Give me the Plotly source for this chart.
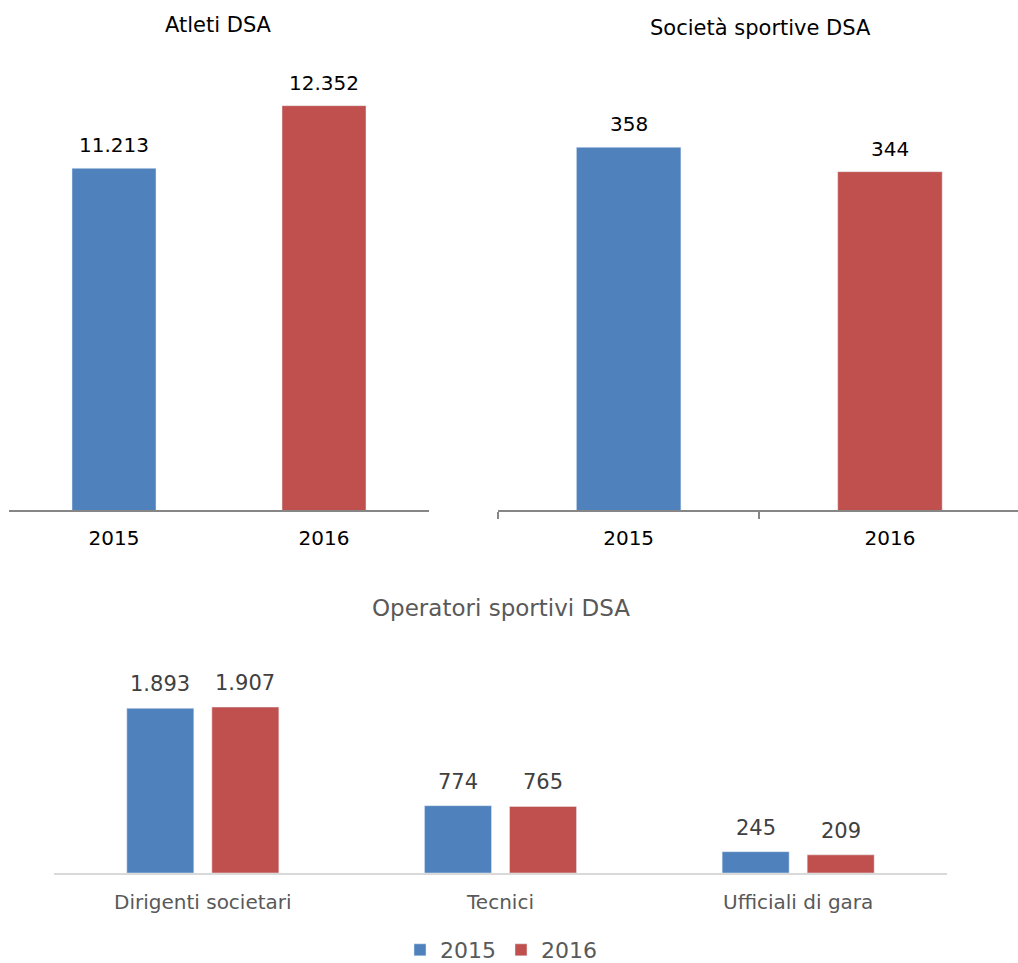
import plotly.graph_objects as go

# --- data ---
years = ["2015", "2016"]
atleti = [11213, 12352]
societa = [358, 344]
operatori_cat = ["Dirigenti societari", "Tecnici", "Ufficiali di gara"]
operatori_2015 = [1893, 774, 245]
operatori_2016 = [1907, 765, 209]

BLUE = "#4F81BD"
RED = "#C0504D"
FONT = "DejaVu Sans"
W, H = 1018, 963


def it_num(v):
    """Italian thousands separator."""
    return f"{v:,}".replace(",", ".")


def px_x(p):
    return p / W


def px_y(p):
    # pixel row from top -> paper fraction from bottom
    return (H - p) / H


fig = go.Figure()

# Atleti DSA
fig.add_trace(go.Bar(x=years, y=atleti, marker_color=[BLUE, RED], width=0.4,
                     xaxis="x", yaxis="y", showlegend=False, hoverinfo="skip"))
# Società sportive DSA
fig.add_trace(go.Bar(x=years, y=societa, marker_color=[BLUE, RED], width=0.4,
                     xaxis="x2", yaxis="y2", showlegend=False, hoverinfo="skip"))
# Operatori sportivi DSA
fig.add_trace(go.Bar(x=operatori_cat, y=operatori_2015, name="2015", marker_color=BLUE,
                     xaxis="x3", yaxis="y3", hoverinfo="skip"))
fig.add_trace(go.Bar(x=operatori_cat, y=operatori_2016, name="2016", marker_color=RED,
                     xaxis="x3", yaxis="y3", hoverinfo="skip"))

annotations = []
# value labels (category index positions)
for ys, xr, yr in [(atleti, "x", "y"), (societa, "x2", "y2")]:
    for i, yv in enumerate(ys):
        annotations.append(dict(x=i, y=yv, xref=xr, yref=yr, text=it_num(yv),
                                showarrow=False, xanchor="center", yanchor="bottom", yshift=9,
                                font=dict(family=FONT, size=20, color="#000000")))
for i, c in enumerate(operatori_cat):
    for yv, off in [(operatori_2015[i], -0.143), (operatori_2016[i], 0.143)]:
        annotations.append(dict(x=i + off, y=yv, xref="x3", yref="y3", text=it_num(yv),
                                showarrow=False, xanchor="center", yanchor="bottom", yshift=10,
                                font=dict(family=FONT, size=21, color="#404040")))

# chart titles
annotations += [
    dict(x=px_x(218), y=px_y(25), xref="paper", yref="paper", text="Atleti DSA",
         showarrow=False, xanchor="center", yanchor="middle",
         font=dict(family=FONT, size=21, color="#000000")),
    dict(x=px_x(760), y=px_y(28), xref="paper", yref="paper", text="Società sportive DSA",
         showarrow=False, xanchor="center", yanchor="middle",
         font=dict(family=FONT, size=21, color="#000000")),
    dict(x=px_x(501), y=px_y(608), xref="paper", yref="paper", text="Operatori sportivi DSA",
         showarrow=False, xanchor="center", yanchor="middle",
         font=dict(family=FONT, size=23, color="#595959")),
]

top_dom = [px_y(510), px_y(70)]
fig.update_layout(
    width=W, height=H,
    # fixed margins: the legend must not shrink the plotting area
    margin=dict(l=0, r=0, t=0, b=0, autoexpand=False),
    paper_bgcolor="white", plot_bgcolor="white",
    barmode="group", bargap=0.4286, bargroupgap=0.212,
    font=dict(family=FONT),
    xaxis=dict(domain=[px_x(9), px_x(429)], anchor="y", type="category", range=[-0.5, 1.5],
               showline=True, linecolor="#868686", linewidth=2, ticks="",
               ticklabelstandoff=9,
               tickfont=dict(size=20, color="#000000"), showgrid=False, fixedrange=True),
    yaxis=dict(domain=top_dom, anchor="x", range=[5000, 13000], visible=False,
               showgrid=False, fixedrange=True),
    xaxis2=dict(domain=[px_x(498), 1.0], anchor="y2", type="category", range=[-0.5, 1.49],
                showline=True, linecolor="#868686", linewidth=2,
                ticks="outside", tickson="boundaries", ticklen=7, tickwidth=2,
                tickcolor="#868686", ticklabelstandoff=9,
                tickfont=dict(size=20, color="#000000"), showgrid=False, fixedrange=True),
    yaxis2=dict(domain=top_dom, anchor="x2", range=[150, 402.3], visible=False,
                showgrid=False, fixedrange=True),
    xaxis3=dict(domain=[px_x(54), px_x(947)], anchor="y3", type="category", range=[-0.5, 2.5],
                showline=True, linecolor="#D9D9D9", linewidth=2, ticks="",
                ticklabelstandoff=10,
                tickfont=dict(size=20, color="#595959"), showgrid=False, fixedrange=True),
    yaxis3=dict(domain=[px_y(873), px_y(655.5)], anchor="x3", range=[0, 2500], visible=False,
                showgrid=False, fixedrange=True),
    legend=dict(orientation="h", x=px_x(400), xanchor="left", y=px_y(950), yanchor="middle",
                font=dict(family=FONT, size=22, color="#595959"),
                itemwidth=30, tracegroupgap=0, bgcolor="rgba(0,0,0,0)"),
    annotations=annotations,
)

fig.write_html("out.html")
